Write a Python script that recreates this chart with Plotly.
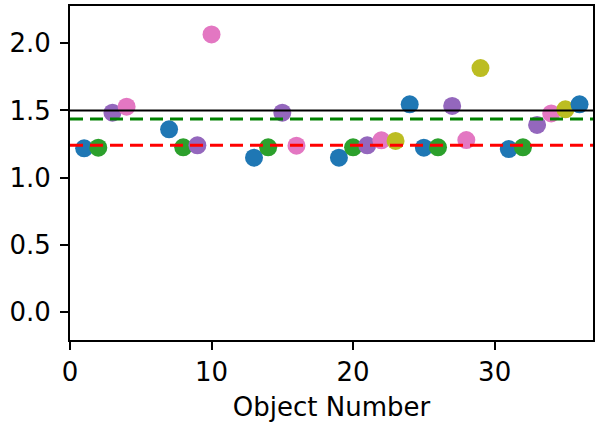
import plotly.graph_objects as go

# Data
obj_num = [1, 2, 3, 4, 7, 8, 9, 10, 13, 14, 15, 16, 19, 20, 21, 22, 23, 24,
           25, 26, 27, 28, 29, 31, 32, 33, 34, 35, 36]
values = [1.218, 1.223, 1.483, 1.528, 1.360, 1.226, 1.241, 2.065, 1.149, 1.226,
          1.483, 1.238, 1.149, 1.226, 1.241, 1.278, 1.273, 1.545, 1.223, 1.226,
          1.533, 1.280, 1.815, 1.213, 1.226, 1.392, 1.478, 1.508, 1.545]
groups = ["blue", "green", "purple", "pink", "blue", "green", "purple", "pink",
          "blue", "green", "purple", "pink", "blue", "green", "purple", "pink",
          "olive", "blue", "blue", "green", "purple", "pink", "olive", "blue",
          "green", "purple", "pink", "olive", "blue"]
palette = {"blue": "#1f77b4", "green": "#2ca02c", "purple": "#9467bd",
           "pink": "#e377c2", "olive": "#bcbd22"}

ref_black = 1.5
ref_green = 1.436
ref_red = 1.241
x_range = [0, 36.95]
y_range = [-0.206, 2.276]
x_ticks = [0, 10, 20, 30]
y_ticks = [0.0, 0.5, 1.0, 1.5, 2.0]
y_ticklabels = ["0.0", "0.5", "1.0", "1.5", "2.0"]

fig = go.Figure()
fig.add_trace(go.Scatter(
    x=obj_num, y=values, mode="markers",
    marker=dict(size=18, color=[palette[g] for g in groups], line=dict(width=0)),
    showlegend=False, cliponaxis=False))

fig.add_hline(y=ref_black, line=dict(color="black", width=2))
fig.add_hline(y=ref_green, line=dict(color="green", width=3, dash="13px,7px"))
fig.add_hline(y=ref_red, line=dict(color="red", width=3, dash="13px,7px"))

font = dict(family="DejaVu Sans", size=26, color="black")
fig.update_layout(
    width=597, height=422,
    margin=dict(l=70, r=4, t=6, b=82),
    paper_bgcolor="white", plot_bgcolor="white",
    font=font,
    xaxis=dict(range=x_range, tickvals=x_ticks, showgrid=False, zeroline=False,
               showline=True, linecolor="black", linewidth=2, mirror=True,
               ticks="outside", ticklen=8, tickwidth=2, tickcolor="black",
               automargin=False,
               title=dict(text="Object Number", font=font, standoff=12)),
    yaxis=dict(range=y_range, tickvals=y_ticks, ticktext=y_ticklabels,
               showgrid=False, zeroline=False, automargin=False,
               ticklabelstandoff=4,
               showline=True, linecolor="black", linewidth=2, mirror=True,
               ticks="outside", ticklen=8, tickwidth=2, tickcolor="black"),
)

fig.write_html("out.html", config={"displayModeBar": False},
               post_script="document.body.style.margin='0';document.body.style.overflow='hidden';")
